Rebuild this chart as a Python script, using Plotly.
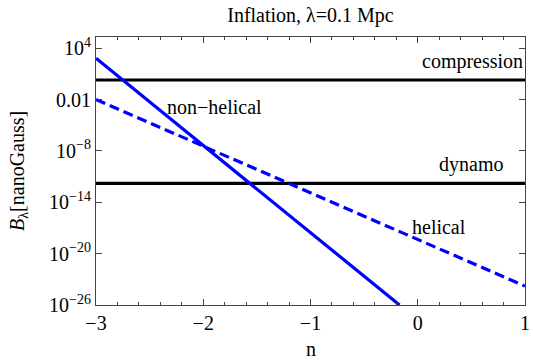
import plotly.graph_objects as go

# Data
n_nonhel = [-3.0, -2.5, -2.0, -1.5, -1.0, -0.5, -0.17]
B_nonhel = [660, 5.2e-3, 4.2e-8, 3.3e-13, 2.6e-18, 2.1e-23, 1.0e-26]

n_hel = [-3.0, -2.0, -1.0, 0.0, 1.0]
B_hel = [1.0e-2, 3.5e-8, 1.26e-13, 4.5e-19, 1.6e-24]

n_range = [-3.0, 1.0]
B_compression = [1.9, 1.9]
B_dynamo = [1.6e-12, 1.6e-12]

x_ticks = [-3, -2, -1, 0, 1]
x_ticktext = ["\u22123", "\u22122", "\u22121", "0", "1"]
y_ticks = [1e4, 1e-2, 1e-8, 1e-14, 1e-20, 1e-26]
y_ticktext = ["10<sup>4</sup>", "0.01", "10<sup>\u22128</sup>", "10<sup>\u221214</sup>",
              "10<sup>\u221220</sup>", "10<sup>\u221226</sup>"]

FONT = "Liberation Serif, DejaVu Serif, serif"
fig = go.Figure()
fig.add_trace(go.Scatter(x=n_range, y=B_compression, mode="lines",
                         line=dict(color="black", width=3.2), showlegend=False))
fig.add_trace(go.Scatter(x=n_range, y=B_dynamo, mode="lines",
                         line=dict(color="black", width=3.2), showlegend=False))
fig.add_trace(go.Scatter(x=n_nonhel, y=B_nonhel, mode="lines",
                         line=dict(color="#0000ff", width=3.2), showlegend=False))
fig.add_trace(go.Scatter(x=n_hel, y=B_hel, mode="lines",
                         line=dict(color="#0000ff", width=3.2, dash="10px,5px"), showlegend=False))

axis_common = dict(showline=True, linecolor="#444", linewidth=1, mirror="ticks",
                   ticks="inside", tickcolor="#444", showgrid=False, zeroline=False,
                   ticklabeloverflow="allow",
                   tickfont=dict(family=FONT, size=20, color="black"))

fig.update_xaxes(range=n_range, tickvals=x_ticks, ticktext=x_ticktext, ticklen=6,
                 minor=dict(dtick=0.2, ticks="inside", ticklen=3, tickcolor="#444"),
                 **axis_common)
fig.update_yaxes(type="log", range=[-26, 5.3], tickvals=y_ticks, ticktext=y_ticktext,
                 ticklen=6, **axis_common)

ann_font = dict(family=FONT, size=20, color="black")
fig.update_layout(
    width=533, height=362, margin=dict(l=96, r=3, t=37, b=57),
    plot_bgcolor="white", paper_bgcolor="white",
    font=dict(family=FONT),
    title=dict(text="Inflation, \u03bb=0.1 Mpc", x=0.5, xanchor="center",
               xref="paper", y=1 - 15 / 362, yanchor="middle",
               font=dict(family=FONT, size=20, color="black")),
    annotations=[
        dict(text="compression", x=0.51, y=2.39, xref="x", yref="y", showarrow=False, font=ann_font),
        dict(text="dynamo", x=0.50, y=-9.64, xref="x", yref="y", showarrow=False, font=ann_font),
        dict(text="non\u2212helical", x=-1.894, y=-2.87, xref="x", yref="y", showarrow=False, font=ann_font),
        dict(text="helical", x=0.198, y=-16.9, xref="x", yref="y", showarrow=False, font=ann_font),
        dict(text="n", x=0.5, y=-0.2127, xref="paper", yref="paper", yanchor="bottom",
             showarrow=False, font=ann_font),
        dict(text="<i>B</i><sub>\u03bb</sub>[nanoGauss]", x=-0.182, y=0.5, xref="paper", yref="paper",
             xanchor="center", yanchor="middle",
             textangle=-90, showarrow=False, font=ann_font),
    ],
)

fig.write_html("out.html")
